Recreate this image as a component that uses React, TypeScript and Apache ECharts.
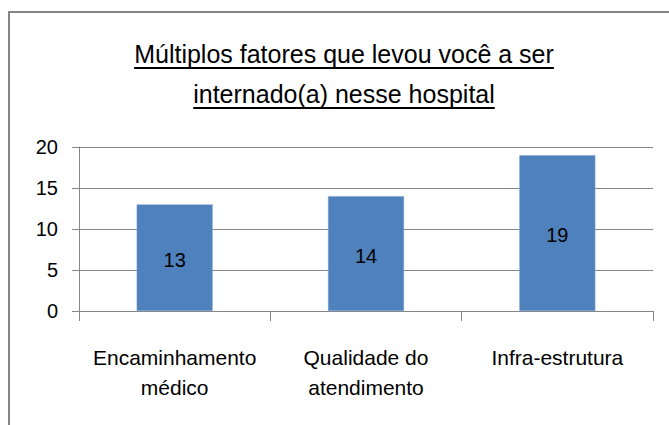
import React, { useEffect, useRef } from "react";
import * as echarts from "echarts";

const categories = ["Encaminhamento\nmédico", "Qualidade do\natendimento", "Infra-estrutura"];
const values = [13, 14, 19];
const yTicks = { min: 0, max: 20, interval: 5 };
const titleLines = ["Múltiplos fatores que levou você a ser", "internado(a) nesse hospital"];

const W = 669;
const H = 425;

function measure(text: string, font: string): number {
  const c = document.createElement("canvas").getContext("2d");
  if (!c) return text.length * 11;
  c.font = font;
  return c.measureText(text).width;
}

export default function App() {
  const ref = useRef<HTMLDivElement>(null);
  useEffect(() => {
    if (!ref.current) return;
    const chart = echarts.init(ref.current, undefined, { renderer: "svg" });
    const titleFont = "25px 'Liberation Sans'";
    const cx = 344;
    const baselines = [63, 103];
    const graphics: any[] = [
      {
        type: "rect",
        shape: { x: 9, y: 12, width: 720, height: 480 },
        style: { fill: "none", stroke: "#858585", lineWidth: 2 },
        silent: true,
      },
    ];
    titleLines.forEach((t, i) => {
      const w = measure(t, titleFont);
      graphics.push({
        type: "text",
        x: cx,
        y: baselines[i] - 8.7,
        style: {
          text: t,
          fill: "#000",
          font: titleFont,
          align: "center",
          verticalAlign: "middle",
        },
      });
      graphics.push({
        type: "line",
        shape: { x1: cx - w / 2, y1: baselines[i] + 5, x2: cx + w / 2, y2: baselines[i] + 5 },
        style: { stroke: "#000", lineWidth: 2 },
      });
    });

    chart.setOption({
      animation: false,
      backgroundColor: "#fff",
      grid: { left: 79, right: 16, top: 147, bottom: 114, containLabel: false },
      xAxis: {
        type: "category",
        data: categories,
        axisLine: { show: true, lineStyle: { color: "#868686", width: 1 } },
        axisTick: { show: true, length: 10, lineStyle: { color: "#868686" } },
        axisLabel: {
          margin: 31,
          fontSize: 21,
          lineHeight: 30,
          color: "#000",
          fontFamily: "'Liberation Sans', sans-serif",
          interval: 0,
        },
      },
      yAxis: {
        type: "value",
        min: yTicks.min,
        max: yTicks.max,
        interval: yTicks.interval,
        axisLine: { show: true, lineStyle: { color: "#868686", width: 1 } },
        axisTick: { show: true, length: 7, lineStyle: { color: "#868686" } },
        splitLine: { show: true, lineStyle: { color: "#868686", width: 1 } },
        axisLabel: {
          margin: 21,
          fontSize: 20,
          color: "#000",
          fontFamily: "'Liberation Sans', sans-serif",
        },
      },
      series: [
        {
          type: "bar",
          data: values,
          barWidth: 76,
          itemStyle: { color: "#4F81BD", borderColor: "#7FA3D0", borderWidth: 0.5 },
          label: {
            show: true,
            position: "inside",
            offset: [0, 2],
            fontSize: 20,
            color: "#000",
            fontFamily: "'Liberation Sans', sans-serif",
          },
        },
      ],
      graphic: graphics,
    });
    return () => chart.dispose();
  }, []);
  return (
    <div
      ref={ref}
      style={{ position: "absolute", left: 0, top: 0, width: W, height: H }}
    />
  );
}
